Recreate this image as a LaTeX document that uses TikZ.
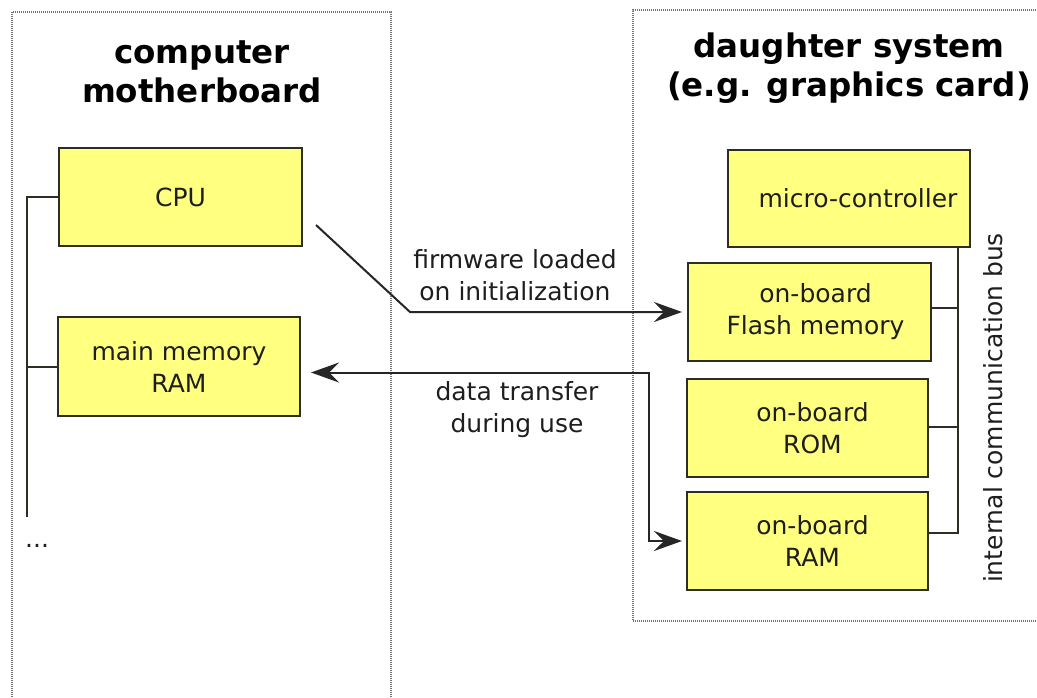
\documentclass[tikz,border=0pt]{standalone}
\usepackage{fontspec}
\setmainfont{DejaVu Sans}
\usetikzlibrary{arrows.meta}
\definecolor{boxyellow}{RGB}{255,255,128}
\definecolor{boxedge}{RGB}{45,45,35}
\definecolor{outeredge}{RGB}{115,115,115}
\definecolor{inktext}{RGB}{30,30,30}
\tikzset{
  outerbox/.style={draw=outeredge, line width=2pt, dash pattern=on 1pt off 1pt, rectangle, inner sep=0pt},
  unitbox/.style={draw=boxedge, fill=boxyellow, line width=2pt, rectangle, inner sep=0pt, align=center,
    text=inktext, font=\fontsize{25}{32}\selectfont},
  titletext/.style={align=center, text=black, font=\fontsize{32.5}{38.5}\selectfont\bfseries, inner sep=0pt},
  plaintext/.style={align=center, text=inktext, font=\fontsize{25}{32}\selectfont, inner sep=0pt},
  wire/.style={draw=boxedge, line width=2pt},
  flow/.style={draw=black!85, line width=2pt, arrows={-Stealth[length=28pt,width=20pt,inset=10pt]}},
  flowboth/.style={draw=black!85, line width=2pt, arrows={Stealth[length=28pt,width=20pt,inset=10pt]-Stealth[length=28pt,width=20pt,inset=10pt]}}
}
\begin{document}
\begin{tikzpicture}[x=1pt,y=-1pt]
\useasboundingbox (0,0) rectangle (1037,697);
\clip (0,0) rectangle (1037,697);
\fill[white] (0,0) rectangle (1037,697);

% outer containers
\node[outerbox, minimum width=379pt, minimum height=710pt] (mb) at (201.5,367) {};
\node[outerbox, minimum width=420pt, minimum height=611pt] (ds) at (843,315.5) {};

% titles
\node[titletext, anchor=base] (mbtitle) at (202,102) {computer\\motherboard};
\node[titletext, anchor=base] (dstitle) at (849,96) {daughter system\\(e.g. graphics card)};

% motherboard units
\node[unitbox, minimum width=243pt, minimum height=98pt] (cpu) at (180.5,197) {CPU};
\node[unitbox, minimum width=242pt, minimum height=99pt] (mem) at (179,366.5) {main memory\\RAM};

% daughter units
\node[unitbox, minimum width=242pt, minimum height=97pt] (mc) at (849,198.5) {\hspace*{18pt}micro-controller};
\node[unitbox, minimum width=243pt, minimum height=98pt] (flash) at (809.5,312) {\hspace*{12pt}on-board\\\hspace*{12pt}Flash memory};
\node[unitbox, minimum width=241pt, minimum height=98pt] (rom) at (807.5,428) {\hspace*{10pt}on-board\\\hspace*{10pt}ROM};
\node[unitbox, minimum width=241pt, minimum height=98pt] (ram) at (807.5,541) {\hspace*{10pt}on-board\\\hspace*{10pt}RAM};

% left bus
\coordinate (lbbot) at (27,517);
\draw[wire] (cpu.west) -- (cpu.west -| lbbot) -- (lbbot);
\draw[wire] (mem.west) -- (mem.west -| lbbot);
\node[plaintext, anchor=base west] (dots) at (25,547) {...};

% right bus
\coordinate (rbtop) at (958,247);
\draw[wire] (rbtop) -- ([yshift=8pt]ram.east -| rbtop) -- ([yshift=8pt]ram.east);
\draw[wire] ([yshift=4pt]flash.east) -- ([yshift=4pt]flash.east -| rbtop);
\draw[wire] ([yshift=1pt]rom.east) -- ([yshift=1pt]rom.east -| rbtop);
\node[plaintext, rotate=90] (buslabel) at (993,408) {internal communication bus};

% firmware arrow
\coordinate (fwstart) at (316,225);
\coordinate (fwbend) at (410,312);
\draw[flow, shorten >=5pt] (fwstart) -- (fwbend) -- (flash.west);
\node[plaintext, anchor=base] (fwlabel) at (515,300) {firmware loaded\\on initialization};

% data transfer arrow
\coordinate (dbend) at (649,400);
\draw[flowboth, shorten <=10pt, shorten >=4pt] ([yshift=-6pt]mem.east) -- ([yshift=-6pt]mem.east -| dbend) |- (ram.west);
\node[plaintext, anchor=base] (dtlabel) at (517,432) {data transfer\\during use};
\end{tikzpicture}
\end{document}
